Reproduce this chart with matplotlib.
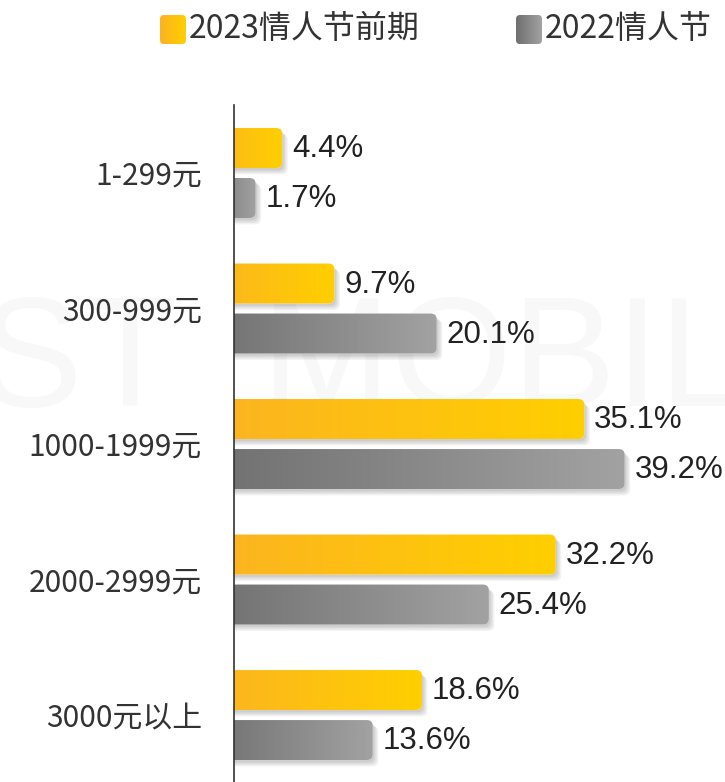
import numpy as np
import matplotlib
matplotlib.use('Agg')
import matplotlib.pyplot as plt
import matplotlib.patheffects as pe
from matplotlib.patches import FancyBboxPatch
from matplotlib.colors import LinearSegmentedColormap

plt.rcParams['font.family'] = ['Noto Sans CJK SC', 'DejaVu Sans']

# 数据
categories = ['1-299元', '300-999元', '1000-1999元', '2000-2999元', '3000元以上']
series_names = ['2023情人节前期', '2022情人节']
values_2023 = [4.4, 9.7, 35.1, 32.2, 18.6]
values_2022 = [1.7, 20.1, 39.2, 25.4, 13.6]

yellow = ('#FCB322', '#FFCF00')
gray = ('#6F6F6F', '#A2A2A2')

W, H = 725, 782
fig = plt.figure(figsize=(W / 100, H / 100), dpi=100)

# 背景层：水印 + 图例
bg = fig.add_axes([0, 0, 1, 1], zorder=0)
bg.set_xlim(0, W)
bg.set_ylim(H, 0)
bg.axis('off')
bg.text(W / 2, 365, 'ST  MOBIL', fontsize=112, family='Liberation Sans',
        color='#f8f8f8', ha='center', va='center', zorder=0, clip_on=True)

shadow = [pe.SimplePatchShadow(offset=(d, -d - 0.6), shadow_rgbFace='black', alpha=0.05)
          for d in (1, 2, 3, 4)] + [pe.Normal()]


def grad_box(ax, x, y, w, h, colors, rs, aspect, z, shadow_on=True):
    patch = FancyBboxPatch((x, y), w, h, boxstyle='round,pad=0,rounding_size=%s' % rs,
                           mutation_aspect=aspect, fc='white', ec='none', zorder=z)
    if shadow_on:
        patch.set_path_effects(shadow)
    ax.add_patch(patch)
    cmap = LinearSegmentedColormap.from_list('g', list(colors))
    im = ax.imshow(np.linspace(0, 1, 256).reshape(1, -1), cmap=cmap,
                   extent=[x, x + w, y + h, y], aspect='auto', zorder=z + 0.5,
                   interpolation='bicubic')
    im.set_clip_path(patch)
    return patch


# 图例
for (lx, tx, name, cols) in [(160, 189, series_names[0], yellow),
                             (516, 545, series_names[1], gray)]:
    grad_box(bg, lx, 15, 26, 29, cols, 4, 1, 2, shadow_on=False)
    bg.text(tx, 29, name, fontsize=23, weight='light', color='#333333',
            va='center', ha='left')
bg.set_xlim(0, W)
bg.set_ylim(H, 0)

# 主图
ax = fig.add_axes([234 / W, 0, (W - 234) / W, (H - 105) / H], zorder=1)
ax.patch.set_visible(False)

px_x, px_y = 9.84, 135.5
x0 = -0.5
aspect = px_x / px_y
off = 25 / px_y
bh = 40 / px_y

for i, cat in enumerate(categories):
    for v, dy, cols in [(values_2023[i], -off, yellow), (values_2022[i], off, gray)]:
        y = i + dy
        grad_box(ax, x0 - 3, y - bh / 2, v - x0 + 3, bh, cols, 0.6, aspect, 2)
        ax.text(v + 1.0, y + 0.01, '%s%%' % v, fontsize=22.5, family='Liberation Sans',
                color='#222222', va='center', ha='left', zorder=5)

ax.set_xlim(x0, x0 + (W - 234) / px_x)
ax.set_ylim(4.494, -0.502)
ax.set_yticks(range(len(categories)))
ax.set_yticklabels(categories, fontsize=21.5, weight='light', color='#333333')
ax.tick_params(axis='y', length=0, pad=23)
ax.set_xticks([])
for s in ['top', 'right', 'bottom']:
    ax.spines[s].set_visible(False)
ax.spines['left'].set_color('#333333')
ax.spines['left'].set_linewidth(1.2)
ax.spines['left'].set_zorder(6)

fig.savefig('out.png', dpi=100)
